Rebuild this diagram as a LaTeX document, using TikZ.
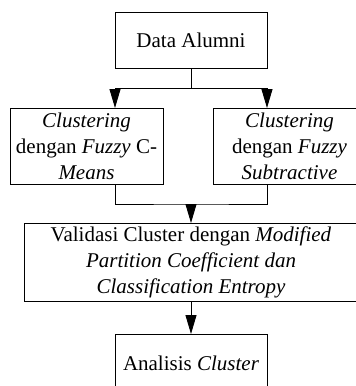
\documentclass[tikz,border=0pt]{standalone}
\usepackage{fontspec}
\setmainfont{Liberation Serif}
\usetikzlibrary{arrows.meta,calc}
\tikzset{
  box/.style={draw, line width=0.9pt, inner sep=0pt, outer sep=0pt, align=center,
    font=\fontsize{21}{26}\selectfont},
  conn/.style={line width=0.9pt},
  arr/.style={conn, -{Triangle[width=11pt,length=19pt]}}
}
\begin{document}
\begin{tikzpicture}[x=1pt,y=1pt]
\useasboundingbox (0,0) rectangle (356,-386);
\clip (0,0) rectangle (356,-386);
\node[box, minimum width=152, minimum height=56] (A) at (191,-40) {Data Alumni};
\node[box, minimum width=153, minimum height=76] (B) at (86.5,-146)
  {\textit{Clustering}\\dengan \textit{Fuzzy} C-\\\textit{Means}};
\node[box, minimum width=153, minimum height=76] (C) at (289.5,-146)
  {\textit{Clustering}\\dengan \textit{Fuzzy}\\\textit{Subtractive}};
\node[box, minimum width=334, minimum height=78] (D) at (191,-262)
  {Validasi Cluster dengan \textit{Modified}\\\textit{Partition Coefficient dan}\\\textit{Classification Entropy}};
\node[box, minimum width=152, minimum height=58] (E) at (191,-363) {Analisis \textit{Cluster}};
\coordinate (j1) at ($(A.south)+(0,-20)$);
\draw[conn] (A.south) -- (j1);
\draw[arr] (j1) -| (B.north -| A.west);
\draw[arr] (j1) -| (C.north -| A.east);
\coordinate (j2) at ($(B.south -| A.south)+(0,-20)$);
\draw[conn] (B.south -| A.west) |- (j2) -| (C.south -| A.east);
\draw[arr] (j2) -- (D.north -| j2);
\draw[arr] (D.south -| E.north) -- (E.north);
\end{tikzpicture}
\end{document}
